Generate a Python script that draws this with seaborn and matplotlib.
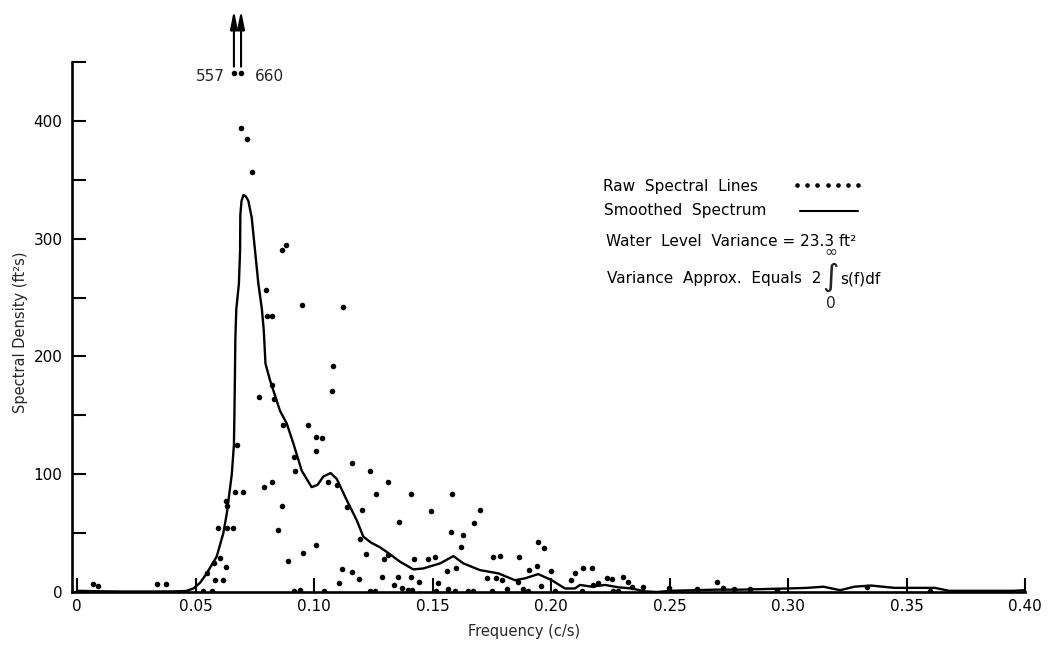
import numpy as np
import pandas as pd
import matplotlib
matplotlib.use("Agg")
import matplotlib.pyplot as plt
import seaborn as sns
from matplotlib.lines import Line2D

# Smoothed spectrum: frequency (c/s) and spectral density (ft^2 s)
smooth_freq = [0.000, 0.010, 0.020, 0.030, 0.040, 0.046, 0.0491, 0.0520, 0.0547,
               0.0589, 0.0617, 0.0632, 0.0653, 0.0662, 0.0664, 0.0666, 0.0668,
               0.0672, 0.0683, 0.0688, 0.0689, 0.0694, 0.0702, 0.0712, 0.0723,
               0.0737, 0.0751, 0.0765, 0.0780, 0.0788, 0.0795, 0.0814, 0.0856,
               0.0885, 0.0913, 0.0948, 0.0990, 0.1015, 0.1039, 0.1070, 0.1096,
               0.1138, 0.1180, 0.1208, 0.1240, 0.1278, 0.1314, 0.1363, 0.1419,
               0.1461, 0.1532, 0.1588, 0.1630, 0.1700, 0.1778, 0.1848, 0.1890,
               0.1946, 0.2003, 0.2059, 0.2101, 0.2122, 0.2172, 0.2228, 0.2284,
               0.2340, 0.2397, 0.2450, 0.2500, 0.2600, 0.2700, 0.2800, 0.2900,
               0.3000, 0.3080, 0.3150, 0.3220, 0.3280, 0.3350, 0.3450, 0.3550,
               0.3620, 0.3680, 0.3750, 0.3850, 0.3950, 0.4000]
smooth_dens = [1.0, 0.6, 0.4, 0.4, 0.5, 0.8, 3.0, 8.0, 15.8,
               30.0, 49.7, 66.7, 100.0, 125.0, 150.0, 180.0, 215.0,
               240.0, 262.0, 290.0, 320.0, 332.0, 337.0, 336.0, 332.0,
               318.0, 290.0, 262.0, 240.0, 222.0, 194.0, 180.0, 154.0,
               143.0, 126.0, 103.0, 89.0, 91.0, 98.0, 101.0, 96.0,
               78.0, 61.0, 47.0, 42.0, 38.0, 33.0, 25.7, 19.2,
               20.0, 24.3, 30.5, 24.3, 18.6, 15.8, 10.0, 11.6,
               15.2, 10.0, 3.0, 3.0, 6.0, 4.5, 6.0, 4.0,
               3.0, 0.5, 0.0, 1.0, 1.5, 2.0, 2.0, 2.5,
               3.0, 3.5, 4.5, 1.5, 4.5, 5.5, 3.5, 3.5,
               3.5, 1.0, 1.0, 1.0, 1.0, 1.5]

# Raw spectral lines
raw_freq = [0.0068, 0.0089, 0.0338, 0.0376, 0.0533, 0.0568, 0.0550, 0.0578,
            0.0603, 0.0582, 0.0616, 0.0627, 0.0596, 0.0632, 0.0660, 0.0627,
            0.0632, 0.0667, 0.0702, 0.0676, 0.0662, 0.0692, 0.0692, 0.0716,
            0.0738, 0.0796, 0.0803, 0.0824, 0.0880, 0.0865, 0.0951, 0.1121,
            0.1079, 0.1075, 0.0769, 0.0821, 0.0832, 0.0870, 0.0973, 0.1008,
            0.1032, 0.1008, 0.0917, 0.0920, 0.0790, 0.0821, 0.0866, 0.0850,
            0.1007, 0.0955, 0.0892, 0.0917, 0.0941, 0.1043, 0.1060, 0.1096,
            0.1162, 0.1236, 0.1314, 0.1262, 0.1409, 0.1584, 0.1138, 0.1201,
            0.1494, 0.1360, 0.1700, 0.1675, 0.1580, 0.1630, 0.1619, 0.1194,
            0.1218, 0.1295, 0.1314, 0.1422, 0.1483, 0.1510, 0.1117, 0.1162,
            0.1107, 0.1191, 0.1288, 0.1356, 0.1408, 0.1444, 0.1338, 0.1370,
            0.1398, 0.1412, 0.1525, 0.1560, 0.1599, 0.1564, 0.1595, 0.1236,
            0.1257, 0.1651, 0.1672, 0.1513, 0.1944, 0.1972, 0.1757, 0.1785,
            0.1865, 0.1940, 0.1907, 0.1999, 0.2136, 0.2171, 0.2101, 0.2084,
            0.2235, 0.2256, 0.2305, 0.2326, 0.1729, 0.1767, 0.1795, 0.1862,
            0.1958, 0.1883, 0.1902, 0.1813, 0.1750, 0.2390, 0.2340, 0.2178,
            0.2200, 0.2263, 0.2284, 0.2130, 0.2017, 0.2498, 0.2615, 0.2700,
            0.2724, 0.2770, 0.2840, 0.2952, 0.3332, 0.3600]
raw_dens = [7.0, 5.0, 7.0, 7.0, 1.0, 1.0, 16.0, 25.0,
            29.0, 10.0, 10.0, 21.0, 54.0, 54.0, 54.0, 77.0,
            73.0, 84.5, 84.5, 125.0, 557.0, 660.0, 394.0, 385.0,
            357.0, 256.0, 234.0, 234.0, 295.0, 290.0, 244.0, 242.0,
            191.5, 171.0, 165.5, 176.0, 164.0, 142.0, 142.0, 132.0,
            131.0, 120.0, 115.0, 103.0, 89.0, 93.5, 73.0, 53.0,
            40.0, 33.0, 26.0, 1.0, 2.0, 0.5, 93.5, 90.7,
            109.6, 103.0, 93.5, 83.6, 83.6, 83.0, 72.0, 69.5,
            68.6, 59.6, 69.5, 58.7, 51.0, 48.0, 38.0, 45.0,
            32.0, 27.7, 31.0, 28.0, 28.0, 29.4, 19.5, 17.2,
            8.0, 11.0, 13.0, 13.0, 13.0, 8.8, 6.0, 3.0,
            1.7, 1.7, 7.3, 17.8, 20.0, 2.5, 0.5, 0.5,
            0.5, 1.0, 0.5, 0.5, 42.6, 37.0, 29.4, 30.8,
            29.4, 22.3, 18.6, 18.0, 20.0, 20.0, 15.8, 10.0,
            12.0, 10.8, 12.4, 8.8, 11.6, 12.1, 10.0, 8.8,
            5.3, 2.5, 0.5, 2.5, 0.5, 4.0, 4.0, 6.0,
            8.0, 0.5, 0.5, 0.5, 0.5, 3.0, 2.5, 8.2,
            3.7, 2.3, 2.3, 1.7, 4.0, 1.0]

# Lines that run off the top of the scale are drawn at this level with an arrow
offscale_level = 441.0

x_ticks = [0.00, 0.05, 0.10, 0.15, 0.20, 0.25, 0.30, 0.35, 0.40]
x_tick_labels = ["0", "0.05", "0.10", "0.15", "0.20", "0.25", "0.30", "0.35", "0.40"]
y_ticks = [0, 50, 100, 150, 200, 250, 300, 350, 400, 450]
y_tick_labels = ["0", "", "100", "", "200", "", "300", "", "400", ""]

sns.set_theme(style="ticks")
plt.rcParams["font.family"] = ["DejaVu Sans"]
plt.rcParams["mathtext.fontset"] = "dejavusans"

W, H = 1048, 649
fig = plt.figure(figsize=(W / 100, H / 100), dpi=100)
fig.patch.set_facecolor("white")

x_min, x_max = -0.002, 0.40
y_min, y_max = 0, 450
ax_left_px, ax_right_px = 72.3, 1025
ax_top_px, ax_bottom_px = 62, 592
ax = fig.add_axes([ax_left_px / W, 1 - ax_bottom_px / H,
                   (ax_right_px - ax_left_px) / W, (ax_bottom_px - ax_top_px) / H])
ax.set_facecolor("white")

raw = pd.DataFrame({"freq": raw_freq, "dens": raw_dens})
raw["shown"] = raw["dens"].clip(upper=offscale_level)
smooth = pd.DataFrame({"freq": smooth_freq, "dens": smooth_dens})

sns.lineplot(data=smooth, x="freq", y="dens", sort=False, color="black",
             linewidth=1.7, ax=ax)
sns.scatterplot(data=raw, x="freq", y="shown", color="black", s=16,
                linewidth=0, ax=ax, zorder=3)

# arrows and labels for the off-scale lines
off = raw[raw["dens"] > offscale_level]
for f, d in zip(off["freq"], off["dens"]):
    ax.annotate("", xy=(f, 494), xytext=(f, 446),
                arrowprops=dict(arrowstyle="-|>,head_length=0.9,head_width=0.18",
                                lw=1.5, color="black", shrinkA=0, shrinkB=0),
                annotation_clip=False)
off_sorted = off.sort_values("freq")
f_lo, d_lo = off_sorted.iloc[0]["freq"], off_sorted.iloc[0]["dens"]
f_hi, d_hi = off_sorted.iloc[-1]["freq"], off_sorted.iloc[-1]["dens"]
ax.text(f_lo - 0.0038, 438, f"{d_lo:.0f}", ha="right", va="center", fontsize=11)
ax.text(f_hi + 0.0059, 438, f"{d_hi:.0f}", ha="left", va="center", fontsize=11)

ax.set_xlim(x_min, x_max)
ax.set_ylim(y_min, y_max)
ax.set_xticks(x_ticks)
ax.set_xticklabels(x_tick_labels)
ax.set_yticks(y_ticks)
ax.set_yticklabels(y_tick_labels)
ax.tick_params(direction="in", length=10, width=1.5, labelsize=11, colors="black")
ax.tick_params(axis="x", pad=5)
ax.tick_params(axis="y", pad=7)
for side in ("top", "right"):
    ax.spines[side].set_visible(False)
for side in ("left", "bottom"):
    ax.spines[side].set_linewidth(1.9)
    ax.spines[side].set_color("black")

ax.set_xlabel("Frequency (c/s)", fontsize=10.5)
ax.set_ylabel("Spectral Density (ft\u00b2s)", fontsize=10.5)
ax.xaxis.set_label_coords((524 - ax_left_px) / (ax_right_px - ax_left_px),
                          -(624 - ax_bottom_px) / (ax_bottom_px - ax_top_px))
ax.yaxis.set_label_coords(-(ax_left_px - 28) / (ax_right_px - ax_left_px), 0.49)


def fx(px):
    return px / W


def fy(py):
    return 1 - py / H


# key and notes
txt_kw = dict(fontsize=11, va="center", ha="left", color="black")
fig.text(fx(603), fy(186), "Raw  Spectral  Lines", **txt_kw)
fig.text(fx(604), fy(211), "Smoothed  Spectrum", **txt_kw)
fig.text(fx(606), fy(241), "Water  Level  Variance = 23.3 ft\u00b2", **txt_kw)
t_var = fig.text(fx(607), fy(279), "Variance  Approx.  Equals  2", **txt_kw)

key_dots_x = np.linspace(797, 858, 7)
fig.add_artist(Line2D(fx(key_dots_x), fy(np.full(7, 185.0)), transform=fig.transFigure,
                      linestyle="none", marker="o", markersize=2.3, color="black"))
fig.add_artist(Line2D([fx(800), fx(858)], [fy(211), fy(211)], transform=fig.transFigure,
                      color="black", linewidth=1.5))

# integral from 0 to infinity, limits stacked above and below the sign
fig.canvas.draw()
renderer = fig.canvas.get_renderer()
bb = t_var.get_window_extent(renderer)
t_int = fig.text((bb.x1 + 1) / W, fy(280), r"$\underset{0}{\overset{\infty}{\int}}$",
                 fontsize=16, va="center", ha="left")
fig.canvas.draw()
bi = t_int.get_window_extent(renderer)
fig.text((bi.x1 + 1) / W, fy(279), "s(f)df", **txt_kw)

fig.savefig("out.png", dpi=100, facecolor="white")
